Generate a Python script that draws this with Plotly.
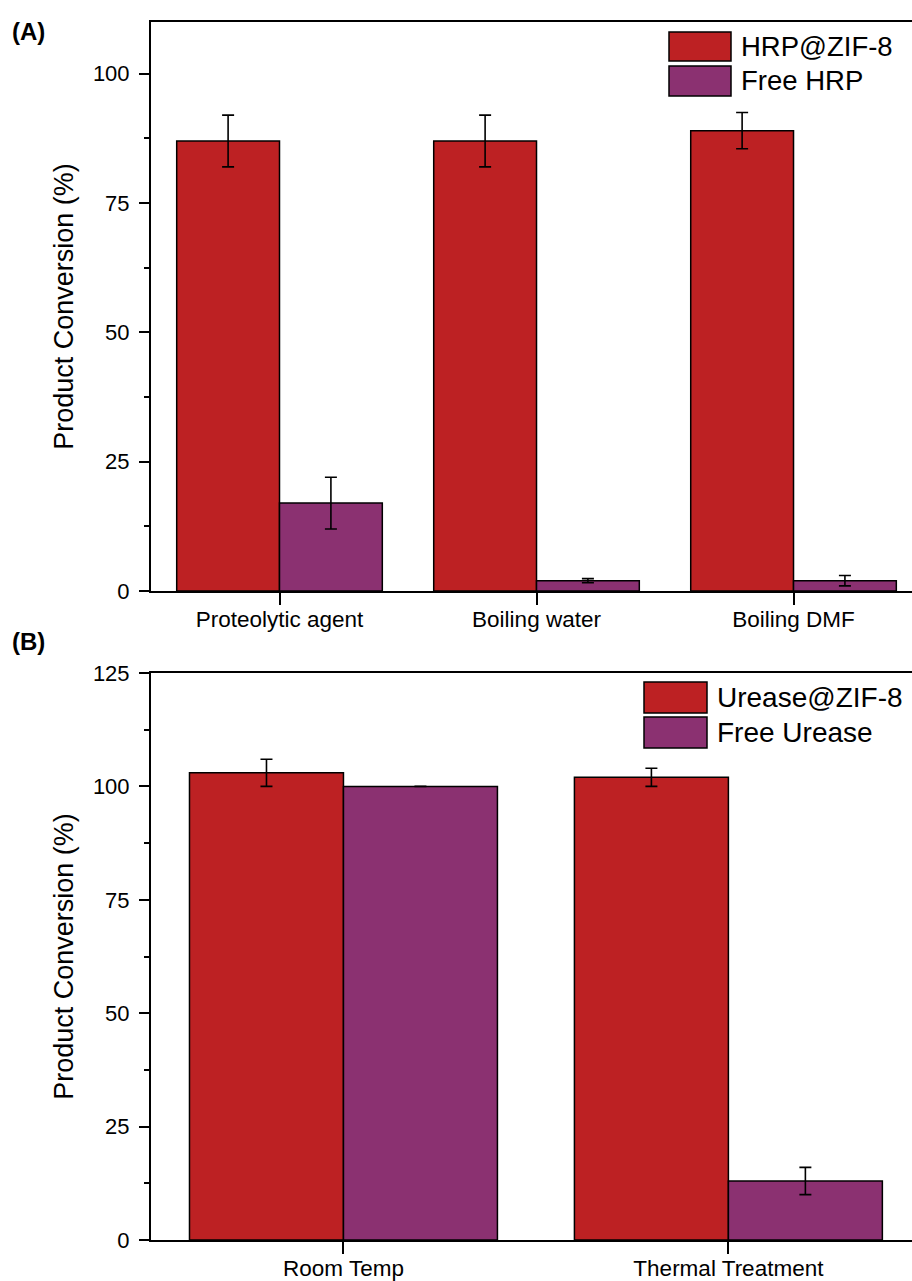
import plotly.graph_objects as go

W, H = 912, 1281

# Panel A: HRP stability
cats_a = ["Proteolytic agent", "Boiling water", "Boiling DMF"]
hrp_zif8 = [87, 87, 89]
hrp_zif8_err = [5, 5, 3.5]
free_hrp = [17, 2, 2]
free_hrp_err = [5, 0.4, 1]

# Panel B: urease stability
cats_b = ["Room Temp", "Thermal Treatment"]
urease_zif8 = [103, 102]
urease_zif8_err = [3, 2]
free_urease = [100, 13]
free_urease_err = [0, 3]

RED = "rgb(189,33,35)"
PURPLE = "rgb(139,49,113)"
FONT = "Arial, Liberation Sans, sans-serif"


def px_x(x):
    return x / W


def px_y(y):
    return 1 - y / H


def err(arr):
    return dict(type="data", array=arr, color="black", thickness=1.6, width=6)


bar_line = dict(color="black", width=1.5)

fig = go.Figure()
fig.add_trace(go.Bar(x=cats_a, y=hrp_zif8, error_y=err(hrp_zif8_err),
                     marker=dict(color=RED, line=bar_line),
                     xaxis="x", yaxis="y", offsetgroup="a1", showlegend=False))
fig.add_trace(go.Bar(x=cats_a, y=free_hrp, error_y=err(free_hrp_err),
                     marker=dict(color=PURPLE, line=bar_line),
                     xaxis="x", yaxis="y", offsetgroup="a2", showlegend=False))
fig.add_trace(go.Bar(x=cats_b, y=urease_zif8, error_y=err(urease_zif8_err),
                     marker=dict(color=RED, line=bar_line),
                     xaxis="x2", yaxis="y2", offsetgroup="b1", showlegend=False))
fig.add_trace(go.Bar(x=cats_b, y=free_urease, error_y=err(free_urease_err),
                     marker=dict(color=PURPLE, line=bar_line),
                     xaxis="x2", yaxis="y2", offsetgroup="b2", showlegend=False))

x_common = dict(showline=True, linewidth=2, linecolor="black", mirror=True,
                ticks="outside", ticklen=12, tickwidth=2, tickcolor="black",
                ticklabelstandoff=-5,
                tickfont=dict(size=22.5, color="black", family=FONT),
                showgrid=False, zeroline=False, automargin=False)
y_common = dict(showline=True, linewidth=2, linecolor="black",
                ticks="outside", ticklen=10, tickwidth=2, tickcolor="black",
                ticklabelstandoff=5,
                tickfont=dict(size=22, color="black", family=FONT),
                showgrid=False, zeroline=False, tick0=0, dtick=25, automargin=False,
                minor=dict(ticks="outside", ticklen=5, tickwidth=2,
                           tickcolor="black", dtick=12.5, showgrid=False),
                title=dict(text="Product Conversion (%)", standoff=11,
                           font=dict(size=27, color="black", family=FONT)))

fig.update_layout(
    width=W, height=H,
    margin=dict(l=0, r=0, t=0, b=0, autoexpand=False),
    paper_bgcolor="white", plot_bgcolor="white",
    barmode="group", bargap=0.2, bargroupgap=0,
    font=dict(family=FONT, color="black"),
    xaxis=dict(x_common, domain=[px_x(151), 1], range=[-0.5, 2.461], anchor="y"),
    yaxis=dict(y_common, domain=[px_y(591), px_y(22)], range=[0, 110], anchor="x"),
    xaxis2=dict(x_common, domain=[px_x(151), 1], range=[-0.5, 1.477], anchor="y2"),
    yaxis2=dict(y_common, domain=[px_y(1240), px_y(673)], range=[0, 125], anchor="x2"),
)

# Panel letters
for label, y in [("(A)", 31), ("(B)", 641)]:
    fig.add_annotation(text=f"<b>{label}</b>", x=px_x(10), y=px_y(y),
                       xref="paper", yref="paper", xanchor="left", yanchor="middle",
                       showarrow=False, font=dict(size=24, color="black", family=FONT))

# Legend boxes with labels
legend_items = [
    (669, 731, 32, 61, RED, "HRP@ZIF-8", 739, 27.5),
    (669, 731, 66, 96, PURPLE, "Free HRP", 739, 27.5),
    (644, 707, 682, 713, RED, "Urease@ZIF-8", 715, 28),
    (644, 707, 717, 748, PURPLE, "Free Urease", 715, 28),
]
for x0, x1, y0, y1, col, name, tx, fs in legend_items:
    fig.add_shape(type="rect", xref="paper", yref="paper",
                  x0=px_x(x0), x1=px_x(x1), y0=px_y(y1), y1=px_y(y0),
                  fillcolor=col, line=dict(color="black", width=1.5))
    fig.add_annotation(text=name, x=px_x(tx), y=px_y((y0 + y1) / 2),
                       xref="paper", yref="paper", xanchor="left", yanchor="middle",
                       showarrow=False, font=dict(size=fs, color="black", family=FONT))

fig.write_html("out.html")
